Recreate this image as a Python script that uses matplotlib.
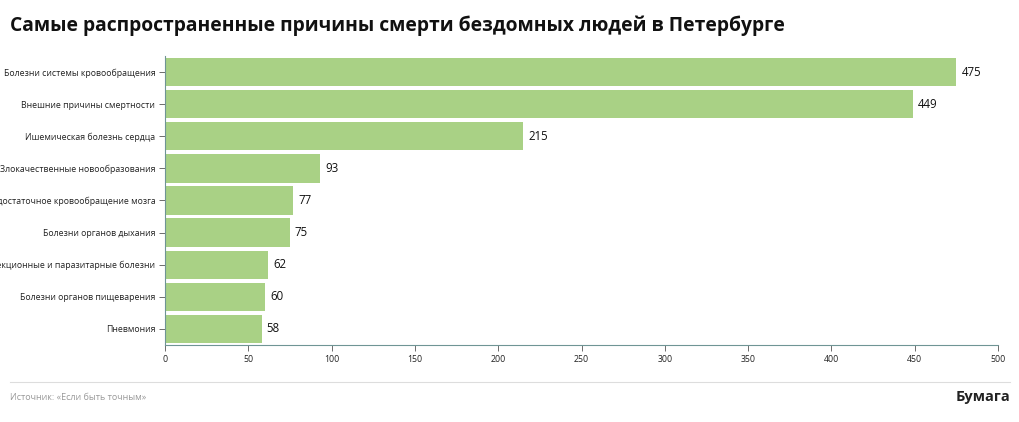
import matplotlib
matplotlib.use("Agg")
import matplotlib.pyplot as plt
from matplotlib.lines import Line2D

categories = [
    "Болезни системы кровообращения",
    "Внешние причины смертности",
    "Ишемическая болезнь сердца",
    "Злокачественные новообразования",
    "Недостаточное кровообращение мозга",
    "Болезни органов дыхания",
    "Инфекционные и паразитарные болезни",
    "Болезни органов пищеварения",
    "Пневмония",
]
values = [475, 449, 215, 93, 77, 75, 62, 60, 58]
xticks = [0, 50, 100, 150, 200, 250, 300, 350, 400, 450, 500]

plt.rcParams['font.family'] = ['Open Sans', 'DejaVu Sans']

W, H = 1020, 422
fig = plt.figure(figsize=(W / 100, H / 100), dpi=100)
ax = fig.add_axes([165 / W, 1 - 345 / H, (998 - 165) / W, (345 - 56) / H])

y = list(range(len(categories)))
ax.barh(y, values, height=0.88, color="#a9d185", edgecolor="none")
ax.set_ylim(len(categories) - 0.5, -0.5)
ax.set_xlim(0, 500)
ax.set_yticks(y)
ax.set_yticklabels(categories, fontsize=6.3, color="#222222")
ax.set_xticks(xticks)
ax.set_xticklabels([str(t) for t in xticks], fontsize=6.3, color="#222222")
ax.tick_params(axis='both', length=4, width=0.6, color="#555555", pad=3)

for s in ["top", "right"]:
    ax.spines[s].set_visible(False)
for s in ["left", "bottom"]:
    ax.spines[s].set_color("#6f9595")
    ax.spines[s].set_linewidth(0.8)

for yi, v in zip(y, values):
    ax.text(v + 3, yi, str(v), va="center", ha="left", fontsize=8.3, color="#111111")

fig.text(10 / W, 1 - 26 / H, "Самые распространенные причины смерти бездомных людей в Петербурге",
         fontsize=13.9, fontweight="bold", color="#111111", va="center", ha="left")

fig.add_artist(Line2D([10 / W, 1010 / W], [1 - 382 / H, 1 - 382 / H],
                      transform=fig.transFigure, color="#dddddd", linewidth=0.8))
fig.text(10 / W, 1 - 397 / H, "Источник: «Если быть точным»", fontsize=6.5,
         color="#999999", va="center", ha="left")
fig.text(1010 / W, 1 - 397 / H, "Бумага", fontsize=10.5, fontweight="bold",
         color="#222222", va="center", ha="right")

fig.savefig("out.png", dpi=100)
